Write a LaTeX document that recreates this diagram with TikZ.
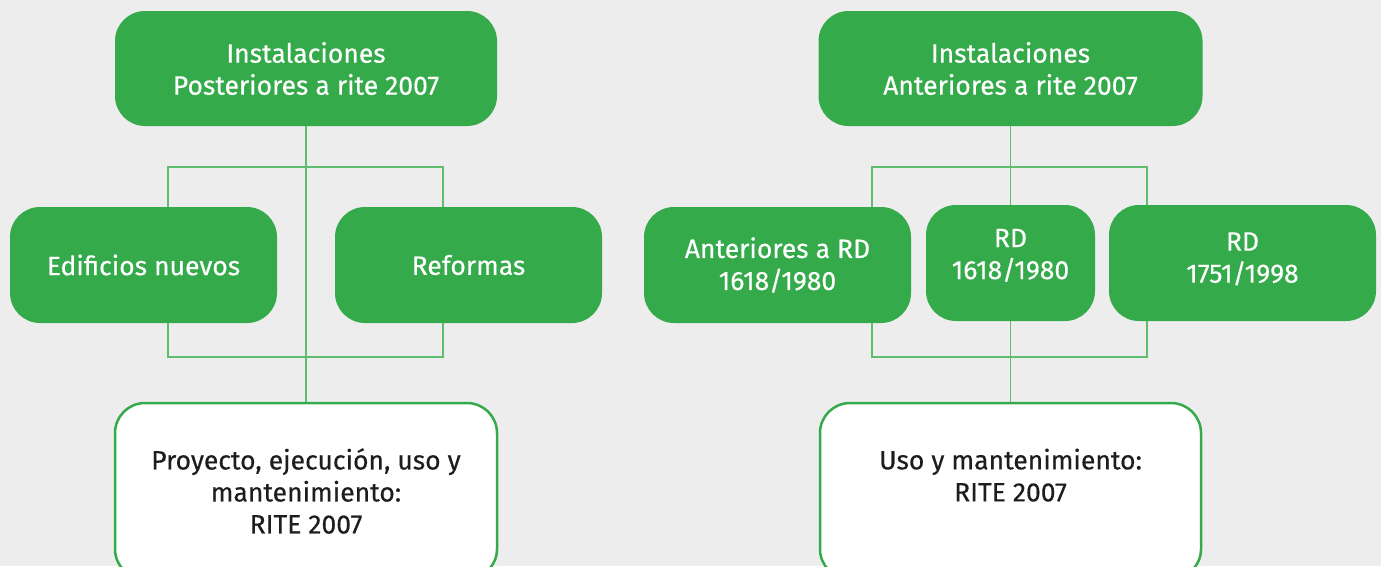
\documentclass[tikz,border=0pt]{standalone}
\usepackage{fontspec}
\setmainfont{Fira Sans}[FakeBold=0.4]

\definecolor{boxgreen}{RGB}{52,170,74}
\definecolor{linegreen}{RGB}{96,188,110}
\definecolor{paper}{RGB}{237,237,237}
\definecolor{ink}{RGB}{29,29,27}

\begin{document}
\begin{tikzpicture}[x=1pt, y=-1pt]
    \tikzstyle{greenbox} = [rectangle, rounded corners=30pt, fill=boxgreen, text=white, align=center, inner sep=0pt, font=\fontsize{26.5}{32}\selectfont]
    \tikzstyle{whitebox} = [greenbox, fill=white, draw=boxgreen, line width=2.5pt, text=ink]
    \tikzstyle{link} = [draw=linegreen, line width=1.5pt]

    \useasboundingbox (0, 0) rectangle (1381, 566);
    \fill [paper] (0, 0) rectangle (1381, 566);
    \clip (0, 0) rectangle (1381, 566);

    \node [greenbox, minimum width=382pt, minimum height=115pt] (instPost) at (306, 68.5) {Instalaciones\\Posteriores a rite 2007};
    \node [greenbox, minimum width=267pt, minimum height=116pt] (edificios) at (143.5, 265) {Edificios nuevos};
    \node [greenbox, minimum width=267pt, minimum height=116pt] (reformas) at (468.5, 265) {Reformas};
    \node [whitebox, minimum width=382pt, minimum height=176pt] (riteFull) at (306, 491) {Proyecto, ejecución, uso y\\mantenimiento:\\RITE 2007};

    \node [greenbox, minimum width=384pt, minimum height=115pt] (instAnt) at (1010.5, 68.5) {Instalaciones\\Anteriores a rite 2007};
    \node [greenbox, minimum width=267pt, minimum height=116pt] (anteriores) at (777.5, 265) {Anteriores a RD\\1618/1980};
    \node [greenbox, minimum width=169pt, minimum height=116pt] (rdOld) at (1010.5, 263) {RD\\1618/1980\\[-14pt]\mbox{}};
    \node [greenbox, minimum width=267pt, minimum height=116pt] (rdNew) at (1242.5, 263) {RD\\1751/1998\\[-21pt]\mbox{}};
    \node [whitebox, minimum width=381pt, minimum height=176pt] (riteUse) at (1010.5, 491) {Uso y mantenimiento:\\RITE 2007\\\mbox{}};

    \coordinate (postTopL) at (168, 167);
    \coordinate (postTopR) at (443, 167);
    \coordinate (postBotL) at (168, 357);
    \coordinate (postBotR) at (443, 357);
    \draw [link] (instPost) -- (riteFull);
    \draw [link] (edificios.north -| postTopL) -- (postTopL) -- (postTopR) -- (reformas.north -| postTopR);
    \draw [link] (edificios.south -| postBotL) -- (postBotL) -- (postBotR) -- (reformas.south -| postBotR);

    \coordinate (antTopL) at (872, 167);
    \coordinate (antTopR) at (1147, 167);
    \coordinate (antBotL) at (872, 357);
    \coordinate (antBotR) at (1147, 357);
    \draw [link] (instAnt) -- (rdOld);
    \draw [link] (rdOld) -- (riteUse);
    \draw [link] (anteriores.north -| antTopL) -- (antTopL) -- (antTopR) -- (rdNew.north -| antTopR);
    \draw [link] (anteriores.south -| antBotL) -- (antBotL) -- (antBotR) -- (rdNew.south -| antBotR);
\end{tikzpicture}
\end{document}
